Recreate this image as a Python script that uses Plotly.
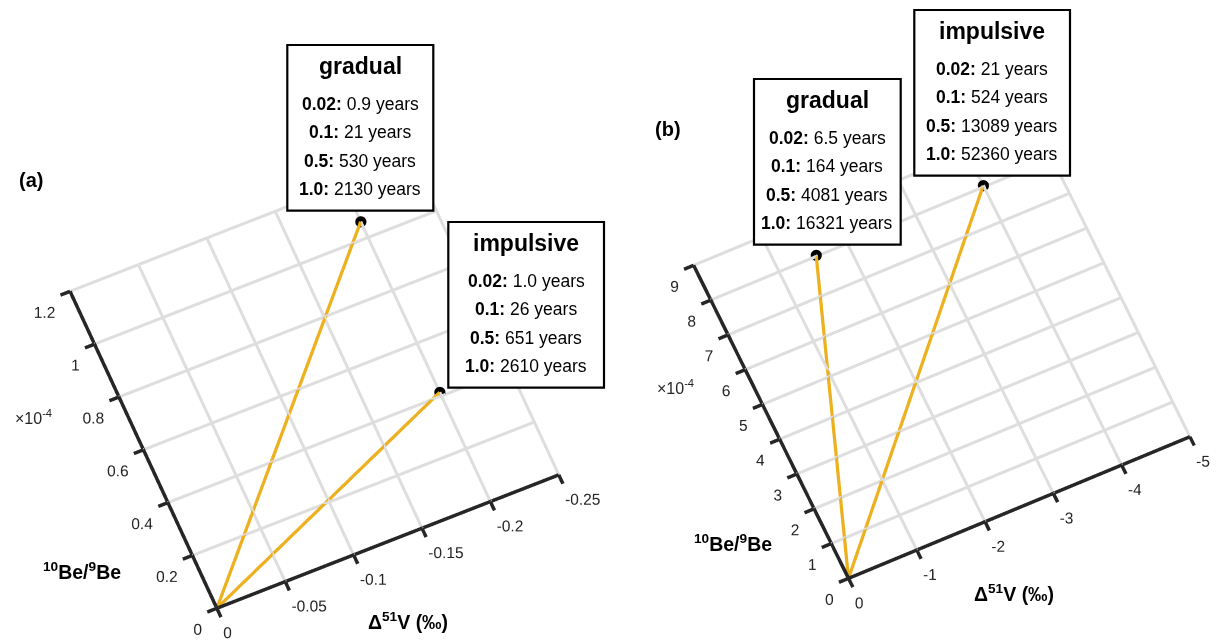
import numpy as np
import plotly.graph_objects as go

W, H = 1217, 640

# ---------------- data ----------------
scenarios = ["gradual", "impulsive"]
fractions = ["0.02", "0.1", "0.5", "1.0"]

a_dv = [-0.2, -0.2]            # Δ51V (‰)
a_be = [1.06e-4, 0.414e-4]     # 10Be/9Be
a_years = [["0.9", "21", "530", "2130"], ["1.0", "26", "651", "2610"]]

b_dv = [-1.55, -4.0]
b_be = [8.03e-4, 8.04e-4]
b_years = [["6.5", "164", "4081", "16321"], ["21", "524", "13089", "52360"]]

a_xticks = [0, -0.05, -0.1, -0.15, -0.2, -0.25]
a_xticklabels = ["0", "-0.05", "-0.1", "-0.15", "-0.2", "-0.25"]
a_yticks = [0, 0.2, 0.4, 0.6, 0.8, 1.0, 1.2]          # x 1e-4
a_yticklabels = ["0", "0.2", "0.4", "0.6", "0.8", "1", "1.2"]

b_xticks = [0, -1, -2, -3, -4, -5]
b_xticklabels = ["0", "-1", "-2", "-3", "-4", "-5"]
b_yticks = [0, 1, 2, 3, 4, 5, 6, 7, 8, 9]              # x 1e-4
b_yticklabels = [str(v) for v in b_yticks]

GOLD = "#EDB120"
INK = "#262626"
GRID = "#dedede"
FONT = "Liberation Sans, Arial, sans-serif"
TICKLEN = 0.028     # tick length, fraction of the other axis
XLAB_SHIFT = 0.025  # x tick labels nudged towards the origin (fraction of axis)
PAD = 0.05          # range padding on the tick side
PAD_FAR = 0.015     # range padding on the far side (avoids clipping the edge grid lines)
ORTHO_C = 0.5       # plotly orthographic scale: px per normalised unit = C * viewport height


def camera_for(px, py, k):
    px = np.array(px, float)
    py = np.array(py, float)
    c1 = px / np.linalg.norm(px)
    c2 = py / np.linalg.norm(py)
    d = float(c1 @ c2)
    a2 = 1.0 / (1.0 + abs(d))
    a = np.sqrt(a2)
    s = np.sqrt(1 - a2)
    col1 = np.array([a * c1[0], a * c1[1], s])
    col2 = np.array([a * c2[0], a * c2[1], -np.sign(d) * s])
    col3 = np.cross(col1, col2)
    r, u, w = np.column_stack([col1, col2, col3])
    cam = dict(
        eye=dict(x=k * w[0], y=k * w[1], z=k * w[2]),
        up=dict(x=u[0], y=u[1], z=u[2]),
        center=dict(x=0, y=0, z=0),
        projection=dict(type="orthographic"),
    )
    return cam, a


fig = go.Figure()
layout_scenes = {}


def panel(scene, origin, Xv, Yv, xticks, xtl, yticks, ytl, dv, be, xlim):
    x_end = xticks[-1]
    y_end = yticks[-1] * 1e-4
    yv = [t * 1e-4 for t in yticks]
    tx = TICKLEN * abs(x_end)
    ty = TICKLEN * y_end

    gx, gy = [], []
    for t in xticks[1:]:
        gx += [t, t, None]; gy += [0, y_end, None]
    for t in yv[1:]:
        gx += [0, x_end, None]; gy += [t, t, None]
    fig.add_trace(go.Scatter3d(x=gx, y=gy, z=[0 if v is not None else None for v in gx],
                               mode="lines", line=dict(color=GRID, width=6),
                               scene=scene, showlegend=False, hoverinfo="skip"))
    for i in range(len(dv)):
        fig.add_trace(go.Scatter3d(
            x=[0, dv[i]], y=[0, be[i]], z=[0, 0], mode="lines",
            line=dict(color=GOLD, width=6.5), scene=scene,
            showlegend=False, hoverinfo="skip"))
    ax_x = [0, 0, x_end, None]
    ax_y = [y_end, 0, 0, None]
    for t in xticks:
        ax_x += [t, t, None]; ax_y += [0, -ty, None]
    for t in yv:
        ax_x += [0, tx, None]; ax_y += [t, t, None]
    fig.add_trace(go.Scatter3d(x=ax_x, y=ax_y, z=[0 if v is not None else None for v in ax_x],
                               mode="lines", line=dict(color=INK, width=7),
                               scene=scene, showlegend=False, hoverinfo="skip"))
    fig.add_trace(go.Scatter3d(
        x=dv, y=be, z=[0] * len(dv), mode="markers",
        marker=dict(color="black", size=6.5), scene=scene,
        showlegend=False, hoverinfo="skip"))
    fig.add_trace(go.Scatter3d(
        x=[t - XLAB_SHIFT * x_end for t in xticks], y=[0] * len(xticks), z=[0] * len(xticks),
        mode="text", text=xtl, textposition="bottom right",
        textfont=dict(family=FONT, size=15.5, color=INK),
        scene=scene, showlegend=False, hoverinfo="skip"))
    fig.add_trace(go.Scatter3d(
        x=[0] * len(yv), y=yv, z=[0] * len(yv), mode="text",
        text=ytl, textposition="bottom left",
        textfont=dict(family=FONT, size=15.5, color=INK),
        scene=scene, showlegend=False, hoverinfo="skip"))

    O = np.array(origin, float)
    Xv = np.array(Xv, float)
    Yv = np.array(Yv, float)
    xr = [x_end * (1 + PAD_FAR), PAD * abs(x_end)]
    yr = [-PAD * y_end, y_end * (1 + PAD_FAR)]

    def scr(x, y):
        return O + (x / x_end) * Xv + (y / y_end) * Yv

    C = scr(sum(xr) / 2, sum(yr) / 2)
    fx = (xr[1] - xr[0]) / abs(x_end)
    fy = (yr[1] - yr[0]) / y_end
    Px = -Xv * fx
    Py = Yv * fy
    Px_up = (Px[0], -Px[1])
    Py_up = (Py[0], -Py[1])
    hw = min(C[0] - xlim[0], xlim[1] - C[0])
    hh = min(C[1], H - C[1])
    cam, alpha = camera_for(Px_up, Py_up, 1.0)
    ar = np.linalg.norm(Px) / np.linalg.norm(Py)
    zoom = np.linalg.norm(Yv) / (ORTHO_C * 2 * hh * alpha)
    layout_scenes[scene] = dict(
        domain=dict(x=[(C[0] - hw) / W, (C[0] + hw) / W],
                    y=[(H - C[1] - hh) / H, (H - C[1] + hh) / H]),
        xaxis=dict(visible=False, range=xr),
        yaxis=dict(visible=False, range=yr),
        zaxis=dict(visible=False, range=[-1, 1]),
        aspectmode="manual", aspectratio=dict(x=ar * fy * zoom, y=fy * zoom, z=0.01),
        camera=cam, bgcolor="white", dragmode=False,
    )


panel("scene", (216.7, 608.3), (341.7, -133.3), (-146.7, -316.7),
      a_xticks, a_xticklabels, a_yticks, a_yticklabels, a_dv, a_be, (0, 640))
panel("scene2", (848.3, 578.3), (341.7, -141.7), (-155.0, -313.3),
      b_xticks, b_xticklabels, b_yticks, b_yticklabels, b_dv, b_be, (645, W))

fig.update_layout(width=W, height=H, margin=dict(l=0, r=0, t=0, b=0),
                  paper_bgcolor="white", hovermode=False, **layout_scenes)


def px2paper(x, y):
    return x / W, 1 - y / H


annotations = []
shapes = []


def text(x, y, s, size, bold=False, color="black"):
    xx, yy = px2paper(x, y)
    annotations.append(dict(
        x=xx, y=yy, xref="paper", yref="paper", text=f"<b>{s}</b>" if bold else s,
        showarrow=False, xanchor="center", yanchor="middle",
        font=dict(family=FONT, size=size, color=color)))


def box(left, top, right, title, years):
    bottom = top + 165.7
    x0, y1 = px2paper(left, top)
    x1, y0 = px2paper(right, bottom)
    shapes.append(dict(type="rect", xref="paper", yref="paper", x0=x0, x1=x1, y0=y0, y1=y1,
                       line=dict(color="black", width=2.2), fillcolor="white", layer="above"))
    cx = (left + right) / 2
    text(cx, top + 21, title, 23, bold=True)
    for j, (f, yv) in enumerate(zip(fractions, years)):
        text(cx, top + 58.5 + 28.6 * j, f"<b>{f}:</b> {yv} years", 17.5)


box(287.3, 45, 433.3, scenarios[0], a_years[0])
box(448.3, 222, 604.0, scenarios[1], a_years[1])
box(754.0, 79, 900.7, scenarios[0], b_years[0])
box(914.3, 10, 1070.0, scenarios[1], b_years[1])

text(31, 180, "(a)", 20, bold=True)
text(668, 129, "(b)", 20, bold=True)
text(33, 417, "\u00d710<sup>-4</sup>", 16, color=INK)
text(675, 387, "\u00d710<sup>-4</sup>", 16, color=INK)
for (x, y) in [(82, 571), (733, 543)]:
    text(x, y, "<sup>10</sup>Be/<sup>9</sup>Be", 19.5, bold=True)
for (x, y) in [(408, 621), (1014, 593)]:
    text(x, y, "\u0394<sup>51</sup>V (\u2030)", 19.5, bold=True)

fig.update_layout(annotations=annotations, shapes=shapes)
fig.write_html("out.html")
